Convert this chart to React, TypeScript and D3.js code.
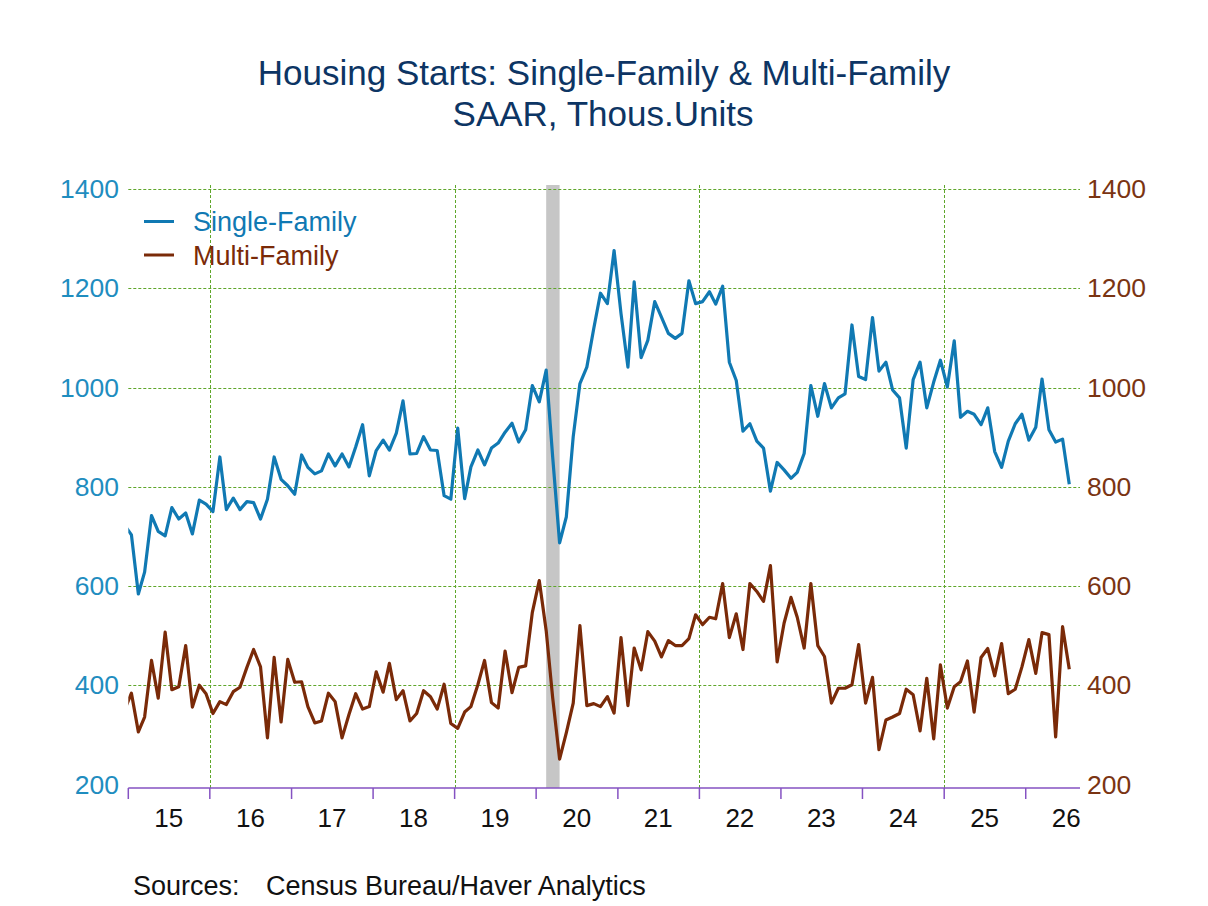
import React, { useRef, useEffect } from "react";
import * as d3 from "d3";

// monthly, Dec 2014 .. Jul 2026 (thous. units, SAAR)
const startYear = 2014;
const startMonth = 11; // December (0-based)

const singleFamily = [
  723,
  703, 584, 628, 742, 710, 701, 758, 735, 747, 705, 773, 765, // 2015
  750, 860, 754, 777, 754, 770, 768, 735, 775, 860, 815, 802, // 2016
  785, 864, 839, 826, 832, 866, 842, 866, 840, 880, 925, 822, // 2017
  873, 894, 874, 908, 973, 866, 867, 901, 874, 873, 782, 775, // 2018
  918, 776, 840, 874, 844, 878, 888, 910, 928, 890, 915, 1004, // 2019
  971, 1035, 860, 687, 739, 901, 1008, 1041, 1119, 1190, 1169, 1276, // 2020
  1149, 1041, 1213, 1060, 1095, 1173, 1142, 1109, 1099, 1109, 1215, 1169, // 2021
  1173, 1193, 1168, 1204, 1051, 1014, 912, 927, 892, 878, 791, 849, // 2022
  834, 817, 829, 867, 1004, 942, 1008, 959, 979, 987, 1126, 1022, // 2023
  1016, 1141, 1033, 1051, 995, 979, 878, 1016, 1051, 959, 1011, 1055, // 2024
  1001, 1094, 940, 952, 946, 925, 959, 871, 839, 892, 927, 946, // 2025
  894, 920, 1017, 915, 890, 896, 805, // 2026
];

const multiFamily = [
  350,
  384, 306, 336, 450, 374, 507, 391, 397, 480, 356, 400, 383, // 2015
  343, 367, 361, 387, 396, 436, 472, 437, 294, 456, 326, 452, // 2016
  406, 407, 357, 324, 328, 384, 367, 294, 341, 383, 352, 357, // 2017
  427, 386, 444, 371, 389, 328, 343, 389, 377, 352, 402, 323, // 2018
  313, 346, 357, 401, 450, 365, 354, 469, 385, 436, 439, 547, // 2019
  611, 510, 375, 251, 304, 364, 520, 359, 363, 357, 377, 344, // 2020
  496, 359, 475, 431, 508, 489, 457, 490, 480, 480, 494, 542, // 2021
  522, 537, 534, 605, 496, 544, 472, 605, 589, 569, 641, 447, // 2022
  525, 577, 537, 475, 605, 480, 458, 364, 394, 394, 401, 482, // 2023
  364, 416, 270, 330, 336, 343, 392, 381, 308, 414, 292, 441, // 2024
  354, 397, 407, 449, 346, 456, 474, 419, 484, 383, 392, 437, // 2025
  492, 424, 506, 502, 296, 518, 432, // 2026
];

const yTicks = [200, 400, 600, 800, 1000, 1200, 1400];
const years = [2015, 2016, 2017, 2018, 2019, 2020, 2021, 2022, 2023, 2024, 2025, 2026];
const gridYears = [2016, 2019, 2022, 2025];
const recession = [new Date(2020, 1, 15), new Date(2020, 3, 15)];

const title1 = "Housing Starts: Single-Family & Multi-Family";
const title2 = "SAAR, Thous.Units";
const seriesNames = ["Single-Family", "Multi-Family"];

const sfColor = "#1079b3";
const mfColor = "#7a2a08";
const leftText = "#1f8dbf";
const rightText = "#7a3412";
const gridColor = "#5ea62a";
const axisColor = "#8552c2";
const font = "'Liberation Sans', Arial, sans-serif";

// snap 1px lines to the pixel grid so they stay crisp
const crisp = (v: number) => Math.round(v) + 0.5;

export default function App() {
  const ref = useRef<SVGSVGElement>(null);

  useEffect(() => {
    if (!ref.current) return;
    const svg = d3.select(ref.current);
    svg.selectAll("*").remove();

    const left = 128.3, right = 1080, top = 185, axisY = 788;

    const x = d3.scaleTime()
      .domain([new Date(2015, 0, 1), new Date(2026, 8, 1)])
      .range([left, right]);
    const y = d3.scaleLinear().domain([200, 1400]).range([784.5, 189]);

    const dates = singleFamily.map((_, i) => new Date(startYear, startMonth + i, 15));

    svg.append("defs").append("clipPath").attr("id", "plot")
      .append("rect")
      .attr("x", left).attr("y", top)
      .attr("width", right - left).attr("height", axisY - top);

    // recession
    svg.append("rect")
      .attr("x", x(recession[0]))
      .attr("y", top)
      .attr("width", x(recession[1]) - x(recession[0]))
      .attr("height", axisY - top)
      .attr("fill", "#c6c6c6");

    // grid
    svg.append("g").selectAll("line")
      .data(yTicks.filter(d => d > 200))
      .join("line")
      .attr("x1", left).attr("x2", right)
      .attr("y1", d => crisp(y(d))).attr("y2", d => crisp(y(d)))
      .attr("stroke", gridColor).attr("stroke-width", 1)
      .attr("stroke-dasharray", "3,2");

    svg.append("g").selectAll("line")
      .data(gridYears)
      .join("line")
      .attr("x1", d => crisp(x(new Date(d, 0, 1)))).attr("x2", d => crisp(x(new Date(d, 0, 1))))
      .attr("y1", top).attr("y2", axisY)
      .attr("stroke", gridColor).attr("stroke-width", 1)
      .attr("stroke-dasharray", "3,2");

    // x axis
    svg.append("line")
      .attr("x1", left).attr("x2", right)
      .attr("y1", axisY).attr("y2", axisY)
      .attr("stroke", axisColor).attr("stroke-width", 1.5);

    svg.append("g").selectAll("line")
      .data(years)
      .join("line")
      .attr("x1", d => x(new Date(d, 0, 1))).attr("x2", d => x(new Date(d, 0, 1)))
      .attr("y1", axisY).attr("y2", axisY + 11)
      .attr("stroke", axisColor).attr("stroke-width", 1.5);

    svg.append("g").selectAll("text")
      .data(years)
      .join("text")
      .attr("x", d => x(new Date(d, 6, 1)))
      .attr("y", 827)
      .attr("text-anchor", "middle")
      .style("font-family", font)
      .style("font-size", "26px")
      .attr("fill", "#111")
      .text(d => d3.format("02d")(d % 100));

    // y labels both sides
    svg.append("g").selectAll("text")
      .data(yTicks)
      .join("text")
      .attr("x", 119)
      .attr("y", d => y(d) + 9)
      .attr("text-anchor", "end")
      .style("font-family", font)
      .style("font-size", "26.5px")
      .attr("fill", leftText)
      .text(d => d);

    svg.append("g").selectAll("text")
      .data(yTicks)
      .join("text")
      .attr("x", 1087)
      .attr("y", d => y(d) + 9)
      .attr("text-anchor", "start")
      .style("font-family", font)
      .style("font-size", "26.5px")
      .attr("fill", rightText)
      .text(d => d);

    // series
    const line = d3.line<number>()
      .x((_, i) => x(dates[i]))
      .y(d => y(d));

    const plot = svg.append("g").attr("clip-path", "url(#plot)");
    plot.append("path")
      .datum(multiFamily)
      .attr("fill", "none")
      .attr("stroke", mfColor)
      .attr("stroke-width", 3.2)
      .attr("stroke-linejoin", "round")
      .attr("d", line as any);
    plot.append("path")
      .datum(singleFamily)
      .attr("fill", "none")
      .attr("stroke", sfColor)
      .attr("stroke-width", 3.2)
      .attr("stroke-linejoin", "round")
      .attr("d", line as any);

    // legend
    const legendG = svg.append("g");
    [sfColor, mfColor].forEach((c, i) => {
      const yPos = 221.5 + i * 33.5;
      legendG.append("line")
        .attr("x1", 144).attr("x2", 174)
        .attr("y1", yPos).attr("y2", yPos)
        .attr("stroke", c).attr("stroke-width", 3);
      legendG.append("text")
        .attr("x", 193).attr("y", yPos + 9.5)
        .style("font-family", font)
        .style("font-size", "27px")
        .attr("fill", c)
        .text(seriesNames[i]);
    });

    // titles
    svg.append("text")
      .attr("x", 604).attr("y", 85)
      .attr("text-anchor", "middle")
      .style("font-family", font)
      .style("font-size", "35px")
      .attr("fill", "#0d3564")
      .text(title1);
    svg.append("text")
      .attr("x", 603).attr("y", 126)
      .attr("text-anchor", "middle")
      .style("font-family", font)
      .style("font-size", "35px")
      .attr("fill", "#0d3564")
      .text(title2);

    svg.append("text")
      .attr("x", 133).attr("y", 895)
      .style("font-family", font)
      .style("font-size", "27px")
      .attr("fill", "#111")
      .text("Sources:");
    svg.append("text")
      .attr("x", 266).attr("y", 895)
      .style("font-family", font)
      .style("font-size", "27px")
      .attr("fill", "#111")
      .text("Census Bureau/Haver Analytics");
  }, []);

  return (
    <svg
      ref={ref}
      width={1208}
      height={906}
      style={{ position: "absolute", left: 0, top: 0, background: "#fff" }}
    />
  );
}
